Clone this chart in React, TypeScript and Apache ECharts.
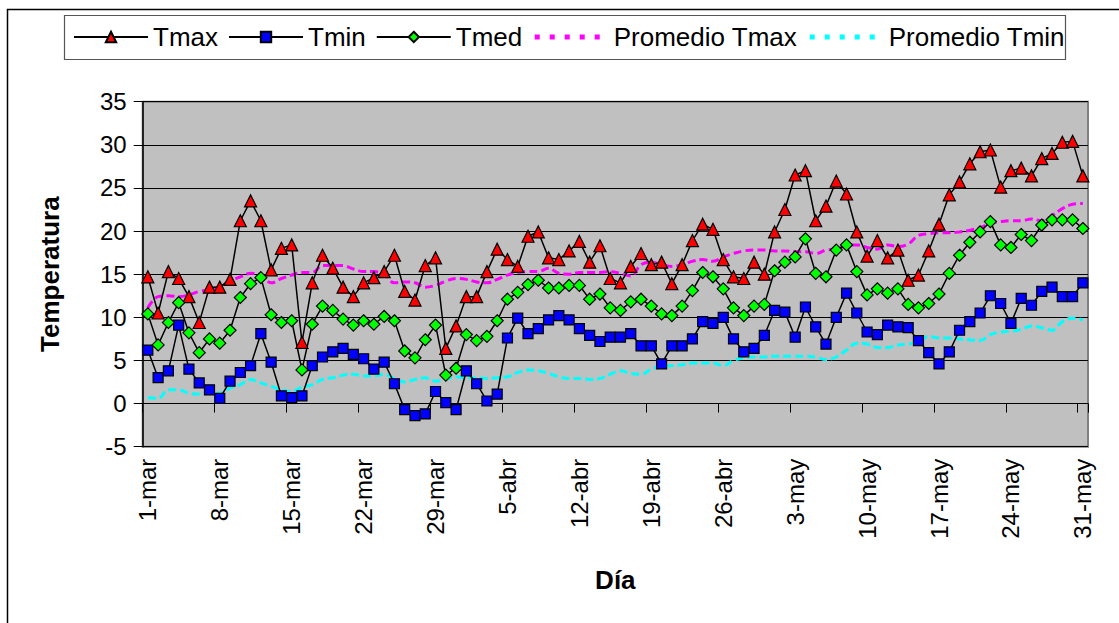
import React, { useEffect, useRef } from "react";
import * as echarts from "echarts";

const monthNames = ["mar", "abr", "may"];
const monthLengths = [31, 30, 31];
const categories: string[] = [];
monthNames.forEach((m, k) => {
  for (let d = 1; d <= monthLengths[k]; d++) categories.push(`${d}-${m}`);
});

const yTicks = { min: -5, max: 35, interval: 5 };

const tmax = [
  14.7, 10.5, 15.3, 14.5, 12.4, 9.4, 13.5, 13.5, 14.4, 21.2,
  23.5, 21.2, 15.5, 18.0, 18.4, 7.1, 14.0, 17.2, 15.7, 13.5,
  12.4, 14.0, 14.6, 15.3, 17.2, 13.0, 12.0, 16.0, 16.9, 6.4,
  9.0, 12.4, 12.4, 15.3, 17.9, 16.7, 15.9, 19.4, 19.9, 16.9,
  16.7, 17.7, 18.8, 16.4, 18.3, 14.5, 14.0, 15.9, 17.4, 16.1,
  16.4, 13.9, 16.1, 18.9, 20.8, 20.2, 16.7, 14.7, 14.5, 16.4,
  15.0, 19.9, 22.5, 26.5, 27.0, 21.2, 22.9, 25.8, 24.3, 19.9,
  17.1, 18.9, 16.9, 17.8, 14.3, 14.9, 17.7, 20.8, 24.2, 25.7,
  27.8, 29.2, 29.4, 25.1, 27.0, 27.3, 26.4, 28.4, 29.0, 30.3,
  30.4, 26.4,
];

const tmin = [
  6.2, 3.0, 3.8, 9.1, 4.0, 2.4, 1.6, 0.6, 2.6, 3.6,
  4.4, 8.1, 4.8, 0.9, 0.7, 0.9, 4.4, 5.4, 6.0, 6.4,
  5.7, 5.2, 4.0, 4.8, 2.3, -0.7, -1.4, -1.2, 1.4, 0.1,
  -0.7, 3.8, 2.3, 0.3, 1.1, 7.6, 9.9, 8.1, 8.7, 9.7,
  10.2, 9.7, 8.7, 7.9, 7.2, 7.7, 7.7, 8.1, 6.7, 6.7,
  4.6, 6.7, 6.7, 7.5, 9.5, 9.3, 10.0, 7.5, 6.0, 6.4,
  7.9, 10.8, 10.6, 7.7, 11.2, 8.9, 6.9, 10.0, 12.8, 10.5,
  8.3, 8.0, 9.1, 8.9, 8.8, 7.3, 5.9, 4.6, 6.0, 8.5,
  9.5, 10.5, 12.5, 11.6, 9.3, 12.2, 11.4, 13.0, 13.5, 12.4,
  12.4, 14.0,
];

const tmed = [
  10.4, 6.8, 9.4, 11.7, 8.2, 5.9, 7.5, 7.0, 8.5, 12.3,
  13.9, 14.6, 10.3, 9.4, 9.6, 3.9, 9.2, 11.3, 10.8, 9.8,
  9.1, 9.6, 9.2, 10.1, 9.6, 6.1, 5.3, 7.4, 9.1, 3.3,
  4.1, 8.0, 7.3, 7.8, 9.6, 12.1, 12.9, 13.8, 14.3, 13.4,
  13.4, 13.7, 13.7, 12.1, 12.7, 11.1, 10.8, 11.8, 12.1, 11.3,
  10.4, 10.2, 11.3, 13.1, 15.2, 14.7, 13.3, 11.1, 10.2, 11.3,
  11.5, 15.4, 16.4, 17.0, 19.1, 15.1, 14.7, 17.8, 18.4, 15.3,
  12.6, 13.3, 12.8, 13.3, 11.5, 11.1, 11.6, 12.7, 15.1, 17.2,
  18.7, 19.9, 21.1, 18.4, 18.1, 19.6, 18.9, 20.7, 21.3, 21.3,
  21.3, 20.3,
];

const promTmax = [
  11.1, 12.4, 12.5, 12.4, 12.6, 13.0, 13.2, 13.6, 14.2, 14.7,
  15.1, 14.9, 14.0, 14.5, 14.9, 15.2, 15.2, 16.0, 16.0, 16.0,
  15.6, 15.3, 15.3, 15.0, 14.0, 14.1, 14.0, 13.5, 13.7, 14.2,
  14.5, 14.4, 14.1, 14.0, 14.4, 14.9, 15.2, 15.3, 15.3, 15.7,
  15.1, 15.0, 15.2, 15.2, 15.2, 15.3, 15.1, 14.8, 16.1, 16.4,
  16.1, 15.9, 16.1, 16.5, 16.7, 16.5, 17.0, 17.4, 17.7, 17.8,
  17.8, 17.7, 17.7, 17.6, 17.6, 17.4, 17.8, 17.9, 18.3, 18.4,
  18.1, 17.9, 18.4, 18.2, 18.5, 19.5, 19.7, 19.8, 19.8, 19.9,
  20.1, 20.4, 20.9, 21.1, 21.2, 21.2, 21.4, 21.2, 21.8, 22.6,
  23.1, 23.2,
];

const promTmin = [
  0.7, 0.6, 1.6, 1.6, 1.2, 1.1, 1.2, 1.2, 1.8, 2.2,
  2.8, 2.4, 2.0, 1.6, 1.4, 1.9, 2.2, 2.8, 3.0, 3.3,
  3.4, 3.2, 3.2, 3.4, 2.9, 2.5, 2.8, 3.0, 2.6, 2.8,
  3.1, 3.0, 3.0, 2.9, 3.0, 3.1, 3.6, 3.9, 3.8, 3.5,
  3.1, 2.9, 2.9, 2.8, 2.9, 3.4, 3.8, 3.5, 3.4, 4.0,
  4.3, 4.4, 4.5, 4.7, 4.7, 4.7, 4.4, 5.0, 5.3, 5.4,
  5.4, 5.5, 5.5, 5.5, 5.5, 5.4, 5.1, 5.4, 6.2, 7.0,
  6.9, 6.5, 6.5, 6.8, 6.9, 7.2, 7.8, 7.6, 7.6, 7.5,
  7.4, 7.3, 8.0, 8.3, 8.4, 8.6, 9.0, 8.8, 8.5, 9.5,
  9.9, 9.7,
];

const FONT = '"Liberation Sans", Arial, sans-serif';

export default function App() {
  const ref = useRef<HTMLDivElement>(null);
  useEffect(() => {
    if (!ref.current) return;
    const chart = echarts.init(ref.current, undefined, { renderer: "svg" });
    const markerLine = (name: string, data: number[], symbol: string, color: string, size: number) => ({
      name,
      type: "line",
      data,
      xAxisIndex: 0,
      symbol,
      symbolSize: size,
      showSymbol: true,
      showAllSymbol: true,
      lineStyle: { color: "#000", width: 1.5 },
      itemStyle: { color, borderColor: "#000", borderWidth: 1.2 },
      z: 3,
    });
    const dashLine = (name: string, data: number[], color: string) => ({
      name,
      type: "line",
      data,
      xAxisIndex: 0,
      symbol: "none",
      smooth: 0.4,
      lineStyle: { color, width: 3, type: [8, 4] },
      itemStyle: { color },
      z: 2,
    });
    const hiddenSymbol = { color: "transparent", borderColor: "transparent", borderWidth: 0, opacity: 0 };
    chart.setOption({
      animation: false,
      backgroundColor: "#fff",
      textStyle: { fontFamily: FONT },
      graphic: [
        {
          type: "rect",
          shape: { x: 7.5, y: 9.5, width: 1300, height: 800 },
          style: { fill: "none", stroke: "#000", lineWidth: 1.5 },
          silent: true,
        },
        {
          type: "rect",
          shape: { x: 64.5, y: 15.5, width: 1001, height: 44 },
          style: { fill: "#fff", stroke: "#555", lineWidth: 1.2 },
          silent: true,
          z: -1,
        },
      ],
      legend: {
        left: 73,
        top: 24,
        padding: 0,
        itemWidth: 74,
        itemHeight: 13,
        itemGap: 10,
        textStyle: { fontSize: 26, color: "#000", fontFamily: FONT },
        data: [
          "Tmax",
          "Tmin",
          "Tmed",
          { name: "Promedio Tmax", itemStyle: hiddenSymbol, lineStyle: { width: 5, type: [5, 10] } },
          { name: "Promedio Tmin", itemStyle: hiddenSymbol, lineStyle: { width: 5, type: [5, 10] } },
        ],
      },
      grid: {
        left: 142.7,
        top: 101.7,
        width: 945.3,
        height: 345,
        show: true,
        backgroundColor: "#C0C0C0",
        borderColor: "#808080",
        borderWidth: 2,
      },
      xAxis: [
        {
          type: "category",
          data: categories,
          position: "bottom",
          boundaryGap: true,
          axisLine: { show: false, onZero: false },
          axisTick: { show: false },
          axisLabel: {
            interval: 6,
            rotate: 90,
            margin: 12,
            fontSize: 24,
            color: "#000",
            fontFamily: FONT,
          },
          splitLine: { show: false },
          name: "Día",
          nameLocation: "middle",
          nameGap: 120,
          nameTextStyle: { fontSize: 26, fontWeight: "bold", color: "#000", fontFamily: FONT },
        },
        {
          type: "category",
          data: categories,
          position: "top",
          boundaryGap: true,
          axisLine: { show: true, onZero: true, lineStyle: { color: "#000", width: 1 } },
          axisTick: { show: true, interval: 6, inside: true, length: 9, lineStyle: { color: "#000", width: 1 } },
          axisLabel: { show: false },
          splitLine: { show: false },
        },
      ],
      yAxis: {
        type: "value",
        min: yTicks.min,
        max: yTicks.max,
        interval: yTicks.interval,
        axisLine: { show: true, onZero: false, lineStyle: { color: "#000", width: 1.5 } },
        axisTick: { show: true, length: 9, lineStyle: { color: "#000", width: 1 } },
        axisLabel: { fontSize: 24, color: "#000", margin: 16, fontFamily: FONT },
        splitLine: { show: true, lineStyle: { color: "#000", width: 1 } },
        name: "Temperatura",
        nameLocation: "middle",
        nameGap: 80,
        nameTextStyle: { fontSize: 26, fontWeight: "bold", color: "#000", fontFamily: FONT },
      },
      series: [
        markerLine("Tmax", tmax, "triangle", "#FF0000", 12),
        markerLine("Tmin", tmin, "rect", "#0000FF", 10),
        markerLine("Tmed", tmed, "diamond", "#00FF00", 12),
        dashLine("Promedio Tmax", promTmax, "#FF00FF"),
        dashLine("Promedio Tmin", promTmin, "#00FFFF"),
      ],
    });
    return () => chart.dispose();
  }, []);
  return (
    <div
      ref={ref}
      style={{ position: "absolute", left: 0, top: 0, width: 1119, height: 623, background: "#fff" }}
    />
  );
}
